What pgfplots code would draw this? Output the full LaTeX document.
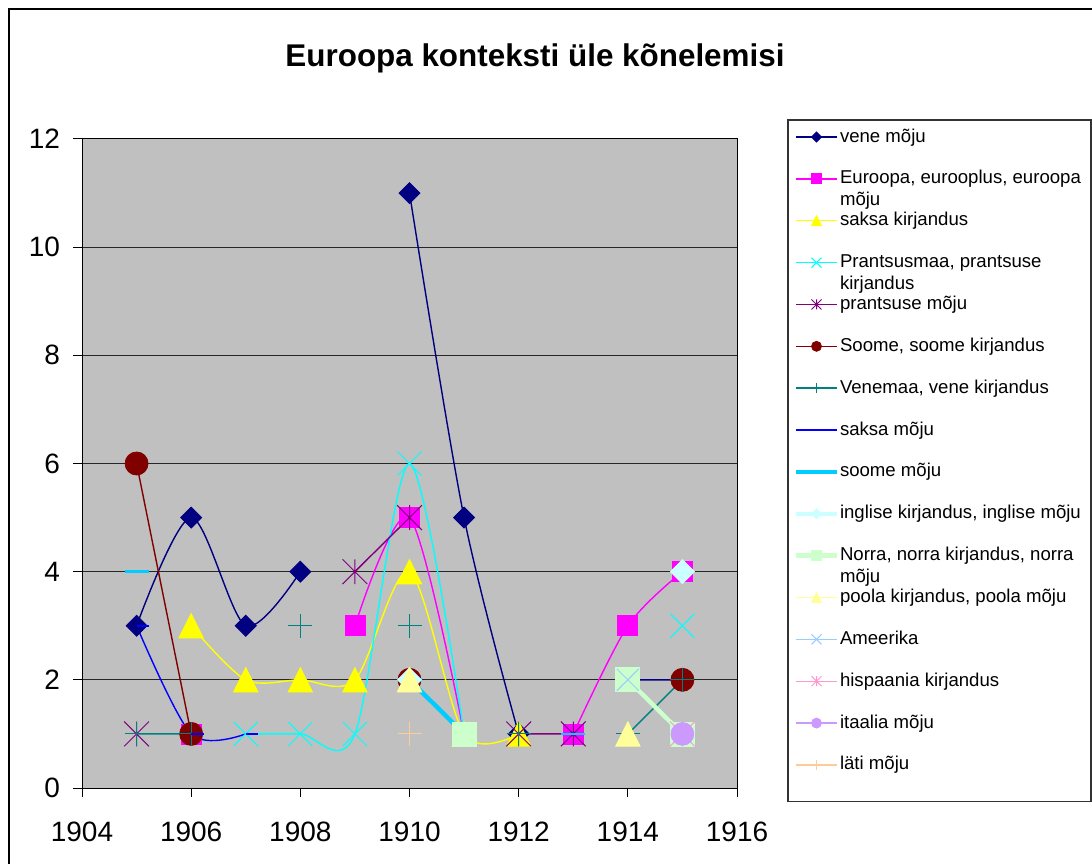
\documentclass[border=0pt]{standalone}
\usepackage{fontspec}
\setmainfont{Liberation Sans}
\usepackage{pgfplots}
\pgfplotsset{compat=1.18}
\definecolor{cNavy}{RGB}{0,0,128}
\definecolor{cMag}{RGB}{255,0,255}
\definecolor{cYel}{RGB}{255,255,0}
\definecolor{cCyan}{RGB}{0,255,255}
\definecolor{cPurp}{RGB}{128,0,128}
\definecolor{cDRed}{RGB}{128,0,0}
\definecolor{cTeal}{RGB}{0,128,128}
\definecolor{cBlue}{RGB}{0,0,255}
\definecolor{cSky}{RGB}{0,204,255}
\definecolor{cLTurq}{RGB}{204,255,255}
\definecolor{cLGreen}{RGB}{204,255,204}
\definecolor{cLYel}{RGB}{255,255,153}
\definecolor{cPBlue}{RGB}{153,204,255}
\definecolor{cRose}{RGB}{255,153,204}
\definecolor{cLav}{RGB}{204,153,255}
\definecolor{cTan}{RGB}{255,204,153}
\definecolor{cPlot}{RGB}{192,192,192}
\pgfdeclareplotmark{xstar}{%
  \pgfpathmoveto{\pgfqpoint{-\pgfplotmarksize}{-\pgfplotmarksize}}%
  \pgfpathlineto{\pgfqpoint{\pgfplotmarksize}{\pgfplotmarksize}}%
  \pgfpathmoveto{\pgfqpoint{-\pgfplotmarksize}{\pgfplotmarksize}}%
  \pgfpathlineto{\pgfqpoint{\pgfplotmarksize}{-\pgfplotmarksize}}%
  \pgfpathmoveto{\pgfqpoint{0pt}{-\pgfplotmarksize}}%
  \pgfpathlineto{\pgfqpoint{0pt}{\pgfplotmarksize}}%
  \pgfusepathqstroke}
\pgfdeclareplotmark{xcross}{%
  \pgfpathmoveto{\pgfqpoint{-\pgfplotmarksize}{-\pgfplotmarksize}}%
  \pgfpathlineto{\pgfqpoint{\pgfplotmarksize}{\pgfplotmarksize}}%
  \pgfpathmoveto{\pgfqpoint{-\pgfplotmarksize}{\pgfplotmarksize}}%
  \pgfpathlineto{\pgfqpoint{\pgfplotmarksize}{-\pgfplotmarksize}}%
  \pgfusepathqstroke}
\pgfdeclareplotmark{rdash}{%
  \pgfpathmoveto{\pgfqpoint{0pt}{0pt}}%
  \pgfpathlineto{\pgfqpoint{\pgfplotmarksize}{0pt}}%
  \pgfusepathqstroke}
\pgfdeclareplotmark{cdash}{%
  \pgfpathmoveto{\pgfqpoint{-\pgfplotmarksize}{0pt}}%
  \pgfpathlineto{\pgfqpoint{\pgfplotmarksize}{0pt}}%
  \pgfusepathqstroke}
\pgfdeclareplotmark{ediamond*}{%
  \pgfpathmoveto{\pgfqpoint{0pt}{\pgfplotmarksize}}%
  \pgfpathlineto{\pgfqpoint{\pgfplotmarksize}{0pt}}%
  \pgfpathlineto{\pgfqpoint{0pt}{-\pgfplotmarksize}}%
  \pgfpathlineto{\pgfqpoint{-\pgfplotmarksize}{0pt}}%
  \pgfpathclose\pgfusepathqfillstroke}
\pgfdeclareplotmark{etri*}{%
  \pgfpathmoveto{\pgfqpoint{0pt}{\pgfplotmarksize}}%
  \pgfpathlineto{\pgfqpoint{\pgfplotmarksize}{-\pgfplotmarksize}}%
  \pgfpathlineto{\pgfqpoint{-\pgfplotmarksize}{-\pgfplotmarksize}}%
  \pgfpathclose\pgfusepathqfillstroke}
\newcommand{\twoline}[2]{\raisebox{0pt}[\height][0pt]{\vtop{\baselineskip=10.7pt\hbox{#1}\hbox{#2}}}}
\begin{document}
\begin{tikzpicture}
\useasboundingbox (0,0) rectangle (546pt,431.5pt);
\draw[line width=0.9pt] (4.5pt,-2pt) -- (4.5pt,427pt) -- (548pt,427pt);
\begin{axis}[
  at={(41pt,37.5pt)}, anchor=south west,
  scale only axis, width=327.5pt, height=324.5pt,
  xmin=1904, xmax=1916, ymin=0, ymax=12,
  xtick={1904,1906,...,1916}, ytick={0,2,...,12},
  /pgf/number format/1000 sep={},
  /pgf/number format/assume math mode=true,
  tick label style={font=\fontsize{14}{16}\selectfont},
  xticklabel style={yshift=-9pt},
  yticklabel style={xshift=-3pt},
  tick align=outside, major tick length=4.5pt,
  xtick pos=bottom, ytick pos=left,
  tick style={black, line width=0.5pt},
  axis line style={black, line width=0.5pt},
  axis background/.style={fill=cPlot},
  ymajorgrids, grid style={black!85, line width=0.5pt},
  unbounded coords=jump,
  every axis plot/.append style={line width=0.7pt},
  legend cell align=left,
  legend style={draw=none, fill=none, inner sep=0pt, outer sep=0pt,
    at={(1.09008,1.0169)}, anchor=north west,
    row sep=11.93pt, column sep=1.5pt,
    font=\fontsize{9.3}{10.7}\selectfont,
    nodes={inner sep=0pt, outer sep=0pt, text height=7pt, text depth=2pt}},
  legend image code/.code={%
    \path[draw=none, fill=none, use as bounding box] (0pt,-2.5pt) rectangle (20.5pt,2.5pt);
    \draw[mark repeat=2,mark phase=2,#1] plot coordinates {(0pt,0pt)(10.25pt,0pt)(20.5pt,0pt)};},
  legend image post style={mark size=2.5pt},
]
% 1 vene moju
\addplot[cNavy, smooth, mark=ediamond*, mark size=5.25pt, mark options={solid, fill=cNavy, draw=cNavy, line width=0.4pt}]
  coordinates {(1905,3)(1906,5)(1907,3)(1908,4)(1909,nan)(1910,11)(1911,5)(1912,1)(1913,nan)(1914,2)(1915,2)};
\addlegendentry{vene mõju}
% 2 Euroopa
\addplot[cMag, smooth, mark=square*, mark size=5pt, mark options={solid, fill=cMag, draw=cMag, line width=0.4pt}]
  coordinates {(1906,1)(1907,nan)(1909,3)(1910,5)(1911,1)(1912,nan)(1913,1)(1914,3)(1915,4)};
\addlegendentry{\twoline{Euroopa, eurooplus, euroopa}{mõju}}
% 3 saksa kirjandus
\addplot[cYel, smooth, mark=etri*, mark size=6.1pt, mark options={solid, fill=cYel, draw=cYel, line width=0.4pt}]
  coordinates {(1906,3)(1907,2)(1908,2)(1909,2)(1910,4)(1911,1)(1912,1)};
\addlegendentry{saksa kirjandus}
% 4 Prantsusmaa
\addplot[cCyan, smooth, mark=xcross, mark size=6pt, mark options={solid, draw=cCyan, line width=0.5pt}]
  coordinates {(1907,1)(1908,1)(1909,1)(1910,6)(1911,1)(1912,nan)(1915,3)};
\addlegendentry{\twoline{Prantsusmaa, prantsuse}{kirjandus}}
% 5 prantsuse moju
\addplot[cPurp, smooth, mark=xstar, mark size=6.2pt, mark options={solid, draw=cPurp, line width=0.5pt}]
  coordinates {(1905,1)(1906,nan)(1909,4)(1910,5)(1911,nan)(1912,1)(1913,1)};
\addlegendentry{prantsuse mõju}
% 6 Soome
\addplot[cDRed, smooth, mark=*, mark size=5.75pt, mark options={solid, fill=cDRed, draw=cDRed, line width=0.4pt}]
  coordinates {(1905,6)(1906,1)(1907,nan)(1910,2)(1911,nan)(1915,2)};
\addlegendentry{Soome, soome kirjandus}
% 7 Venemaa
\addplot[cTeal, smooth, mark=+, mark size=6pt, mark options={solid, draw=cTeal, line width=0.5pt}]
  coordinates {(1905,1)(1906,1)(1907,nan)(1908,3)(1909,nan)(1910,3)(1911,nan)(1912,1)(1913,nan)(1914,1)(1915,2)};
\addlegendentry{Venemaa, vene kirjandus}
% 8 saksa moju
\addplot[cBlue, smooth, mark=rdash, mark size=6.3pt, mark options={solid, draw=cBlue, line width=1.1pt}]
  coordinates {(1905,3)(1906,1)(1907,1)(1908,nan)(1915,1)};
\addlegendentry{saksa mõju}
% 9 soome moju
\addplot[cSky, smooth, line width=2.2pt, mark=cdash, mark size=6pt, mark options={solid, draw=cSky, line width=1.4pt}]
  coordinates {(1905,4)(1906,nan)(1910,2)(1911,1)(1912,nan)(1913,1)};
\addlegendentry{soome mõju}
% 10 inglise
\addplot[cLTurq, smooth, line width=2.2pt, mark=ediamond*, mark size=6pt, mark options={solid, fill=cLTurq, draw=cLTurq, line width=0.4pt}]
  coordinates {(1910,2)(1911,nan)(1915,4)};
\addlegendentry{inglise kirjandus, inglise mõju}
% 11 Norra
\addplot[cLGreen, smooth, line width=2.2pt, mark=square*, mark size=6pt, mark options={solid, fill=cLGreen, draw=cLGreen, line width=0.4pt}]
  coordinates {(1911,1)(1912,nan)(1914,2)(1915,1)};
\addlegendentry{\twoline{Norra, norra kirjandus, norra}{mõju}}
% 12 poola
\addplot[cLYel, smooth, mark=etri*, mark size=6.1pt, mark options={solid, fill=cLYel, draw=cLYel, line width=0.4pt}]
  coordinates {(1910,2)(1911,nan)(1914,1)};
\addlegendentry{poola kirjandus, poola mõju}
% 13 Ameerika
\addplot[cPBlue, smooth, mark=xcross, mark size=5.5pt, mark options={solid, draw=cPBlue, line width=0.5pt}]
  coordinates {(1914,2)};
\addlegendentry{Ameerika}
% 14 hispaania
\addplot[cRose, smooth, mark=xstar, mark size=6.2pt, mark options={solid, draw=cRose, line width=0.5pt}]
  coordinates {(1915,1)};
\addlegendentry{hispaania kirjandus}
% 15 itaalia
\addplot[cLav, smooth, mark=*, mark size=5.7pt, mark options={solid, fill=cLav, draw=cLav, line width=0.4pt}]
  coordinates {(1915,1)};
\addlegendentry{itaalia mõju}
% 16 lati
\addplot[cTan, smooth, mark=+, mark size=6pt, mark options={solid, draw=cTan, line width=0.5pt}]
  coordinates {(1910,1)};
\addlegendentry{läti mõju}
\end{axis}
\draw[black!80, line width=0.6pt] (394pt,30.7pt) rectangle (545.5pt,371.5pt);
\node[anchor=base, font=\fontsize{15.7}{18}\selectfont\bfseries] at (267.5pt,398.2pt) {Euroopa konteksti üle kõnelemisi};
\end{tikzpicture}
\end{document}
